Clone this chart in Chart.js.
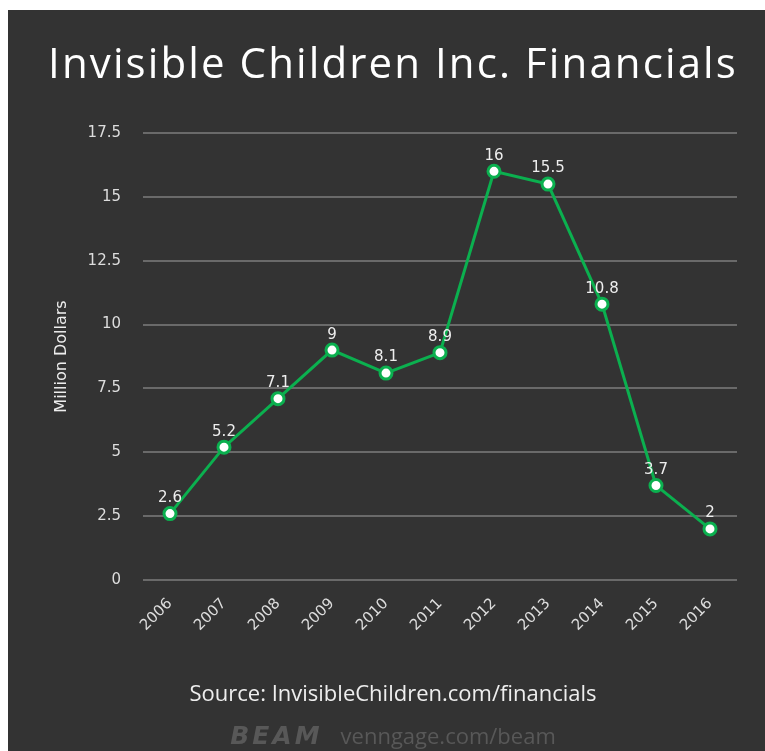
<!DOCTYPE html>
<html>
<head>
<meta charset="utf-8">
<script src="https://cdn.jsdelivr.net/npm/chart.js@4"></script>
<style>
  body { margin: 0; background: #fff; width: 765px; height: 751px; overflow: hidden; font-family: "Open Sans", sans-serif; }
  #panel { position: absolute; left: 8px; top: 10px; width: 757px; height: 741px; background: #333333; }
  #title { position: absolute; left: 0; width: 770px; top: 23px; text-align: center; color: #fff; font-size: 42px; letter-spacing: 2.1px; }
  #source { position: absolute; left: 0; width: 770px; top: 667px; text-align: center; color: #eee; font-size: 22px; }
  #footer { position: absolute; left: 0; width: 770px; top: 710px; text-align: center; color: #585858; font-size: 22px; }
  #footer b { font-family: "DejaVu Sans", sans-serif; font-weight: 900; font-size: 25px; letter-spacing: 3px; margin-right: 18px; font-style: italic; }
  #wrap { position: absolute; left: 0; top: 0; width: 757px; height: 741px; }
</style>
</head>
<body>
<div id="panel">
  <div id="wrap"><canvas id="chart"></canvas></div>
  <div id="title">Invisible Children Inc. Financials</div>
  <div id="source">Source: InvisibleChildren.com/financials</div>
  <div id="footer"><b>BEAM</b>venngage.com/beam</div>
</div>
<script>
// Data
const years = ["2006", "2007", "2008", "2009", "2010", "2011", "2012", "2013", "2014", "2015", "2016"];
const revenue = [2.6, 5.2, 7.1, 9, 8.1, 8.9, 16, 15.5, 10.8, 3.7, 2];
const yTicks = [0, 2.5, 5, 7.5, 10, 12.5, 15, 17.5];

const green = "#0bb04f";
const font = "DejaVu Sans";

// draw value above each point
const valueLabels = {
  id: "valueLabels",
  afterDatasetsDraw(chart) {
    const ctx = chart.ctx;
    const meta = chart.getDatasetMeta(0);
    ctx.save();
    ctx.fillStyle = "#eeeeee";
    ctx.font = '15px "DejaVu Sans", sans-serif';
    ctx.textAlign = "center";
    ctx.textBaseline = "bottom";
    meta.data.forEach((pt, i) => {
      ctx.fillText(String(revenue[i]), pt.x, pt.y - 8);
    });
    ctx.restore();
  }
};

const ctx = document.getElementById("chart").getContext("2d");
new Chart(ctx, {
  type: "line",
  data: {
    labels: years,
    datasets: [{
      data: revenue,
      borderColor: green,
      borderWidth: 3,
      pointBackgroundColor: "#ffffff",
      pointBorderColor: green,
      pointBorderWidth: 3,
      pointRadius: 6,
      tension: 0
    }]
  },
  options: {
    responsive: true,
    maintainAspectRatio: false,
    animation: false,
    layout: { padding: { left: 40, right: 28, top: 123, bottom: 111 } },
    plugins: { legend: { display: false }, tooltip: { enabled: false } },
    scales: {
      x: {
        offset: true,
        grid: { display: false },
        border: { display: false },
        ticks: {
          color: "#dddddd",
          font: { family: font, size: 15 },
          minRotation: 45,
          maxRotation: 45,
          padding: 7
        },
        afterFit(scale) { scale.height = 60; }
      },
      y: {
        min: 0,
        max: 17.5,
        afterBuildTicks(scale) { scale.ticks = yTicks.map(v => ({ value: v })); },
        grid: { color: "#6a6a6a", lineWidth: 2, drawTicks: false },
        border: { display: false },
        ticks: {
          color: "#dddddd",
          font: { family: font, size: 15 },
          padding: 22,
          callback: v => String(v)
        },
        title: {
          display: true,
          text: "Million Dollars",
          color: "#eeeeee",
          font: { family: font, size: 16 }
        },
        afterFit(scale) { scale.width = 95; }
      }
    }
  },
  plugins: [valueLabels]
});
</script>
</body>
</html>
